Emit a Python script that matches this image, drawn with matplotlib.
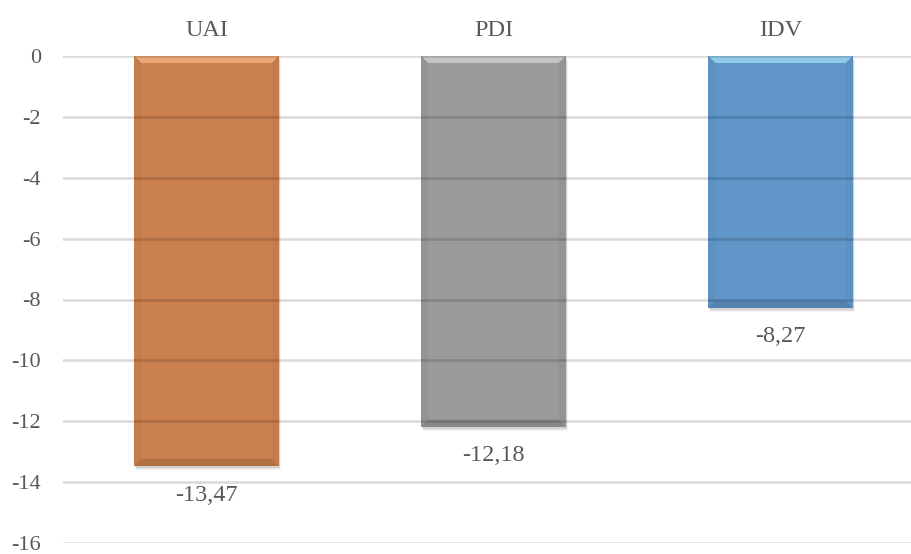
import matplotlib
matplotlib.use("Agg")
import matplotlib.pyplot as plt
from matplotlib.patches import Polygon, Rectangle

categories = ["UAI", "PDI", "IDV"]
values = [-13.47, -12.18, -8.27]
value_labels = ["-13,47", "-12,18", "-8,27"]
y_ticks = [0, -2, -4, -6, -8, -10, -12, -14, -16]

# face, top highlight, bottom shade, side shade
palette = [
    ("#CB8050", "#EBA777", "#B0703F", "#C57C4D"),
    ("#9A9A9A", "#C4C4C4", "#878787", "#949494"),
    ("#6096C8", "#93C9EA", "#5483B2", "#5C91C2"),
]

plt.rcParams["font.family"] = ["Liberation Serif", "DejaVu Serif"]
text_color = "#595959"

fig = plt.figure(figsize=(9.11, 5.54), dpi=100)
ax = fig.add_axes([63 / 911, 11 / 554, 861 / 911, 487 / 554])

width = 0.505
xs = list(range(len(categories)))
ax.set_xlim(-0.5, len(categories) - 0.5)
ax.set_ylim(-16, 0)

# pixel -> data unit sizes for the bevel
px_x = 1.0 / 287
px_y = 16.0 / 487
bev_x = 7 * px_x
bev_y = 7 * px_y

for x, v, (face, hi, lo, side) in zip(xs, values, palette):
    x0, x1 = x - width / 2, x + width / 2
    # soft drop shadow
    for k, a in [(4, 0.04), (3, 0.06), (2, 0.08)]:
        ax.add_patch(Rectangle((x0 + k * px_x * 0.5, v - k * px_y), width, -v,
                               facecolor="black", alpha=a, lw=0, zorder=1))
    ax.bar(x, v, width=width, color=face, zorder=2, linewidth=0)
    # bevel: top strip lighter, bottom darker, sides shaded
    ax.add_patch(Polygon([(x0, 0), (x1, 0), (x1 - bev_x, -bev_y), (x0 + bev_x, -bev_y)],
                         closed=True, facecolor=hi, lw=0, zorder=3))
    ax.add_patch(Polygon([(x0, v), (x1, v), (x1 - bev_x, v + bev_y), (x0 + bev_x, v + bev_y)],
                         closed=True, facecolor=lo, lw=0, zorder=3))
    ax.add_patch(Polygon([(x0, 0), (x0 + bev_x, -bev_y), (x0 + bev_x, v + bev_y), (x0, v)],
                         closed=True, facecolor=side, lw=0, zorder=3))
    ax.add_patch(Polygon([(x1, 0), (x1 - bev_x, -bev_y), (x1 - bev_x, v + bev_y), (x1, v)],
                         closed=True, facecolor=side, lw=0, zorder=3))

for x, v, lab in zip(xs, values, value_labels):
    ax.annotate(lab, xy=(x, v), xytext=(0, -21), textcoords="offset points",
                ha="center", va="center", fontsize=17.5, color=text_color)

for t in y_ticks:
    ax.axhline(t, color="black", alpha=0.15, lw=1.8, zorder=4)

ax.set_yticks(y_ticks)
ax.set_yticklabels([str(t) for t in y_ticks])
ax.set_xticks(xs)
ax.set_xticklabels(categories, fontsize=17.5)
ax.xaxis.tick_top()
ax.tick_params(axis="both", length=0, labelcolor=text_color)
ax.tick_params(axis="y", pad=16, labelsize=16)
ax.tick_params(axis="x", pad=11)
for s in ax.spines.values():
    s.set_visible(False)

fig.savefig("out.png", dpi=100)
